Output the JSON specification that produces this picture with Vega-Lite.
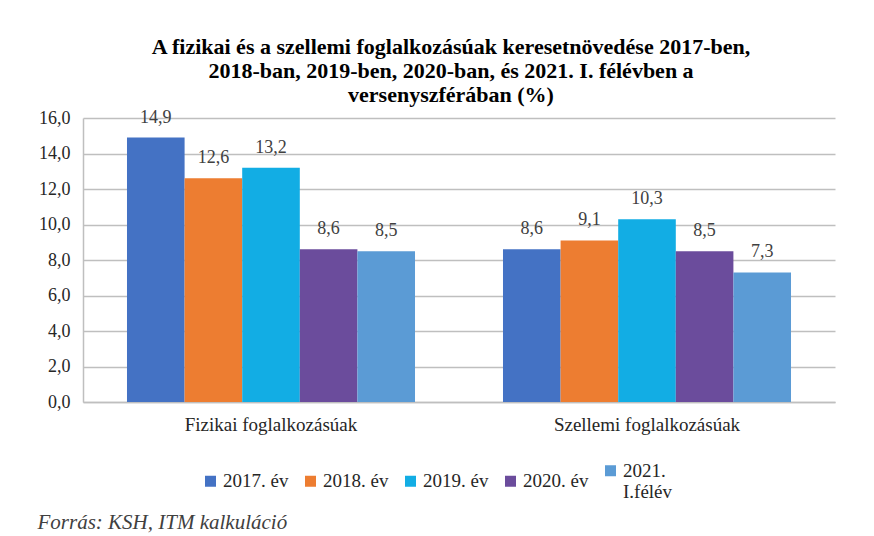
{
  "$schema": "https://vega.github.io/schema/vega-lite/v6.json",
  "autosize": {"type": "none"},
  "width": 752,
  "height": 284,
  "padding": {"left": 83, "top": 118, "right": 39, "bottom": 134},
  "background": "white",
  "title": {
    "text": ["A fizikai és a  szellemi foglalkozásúak keresetnövedése 2017-ben,", "2018-ban, 2019-ben, 2020-ban, és 2021. I. félévben a", "versenyszférában (%)"],
    "font": "Liberation Serif",
    "fontSize": 22,
    "fontWeight": "bold",
    "color": "#000000",
    "lineHeight": 24,
    "anchor": "middle",
    "dx": -8,
    "offset": 2
  },
  "data": {
    "values": [
      {"kategoria": "Fizikai foglalkozásúak", "ev": "2017. év", "ertek": 14.9},
      {"kategoria": "Fizikai foglalkozásúak", "ev": "2018. év", "ertek": 12.6},
      {"kategoria": "Fizikai foglalkozásúak", "ev": "2019. év", "ertek": 13.2},
      {"kategoria": "Fizikai foglalkozásúak", "ev": "2020. év", "ertek": 8.6},
      {"kategoria": "Fizikai foglalkozásúak", "ev": "2021. I.félév", "ertek": 8.5},
      {"kategoria": "Szellemi foglalkozásúak", "ev": "2017. év", "ertek": 8.6},
      {"kategoria": "Szellemi foglalkozásúak", "ev": "2018. év", "ertek": 9.1},
      {"kategoria": "Szellemi foglalkozásúak", "ev": "2019. év", "ertek": 10.3},
      {"kategoria": "Szellemi foglalkozásúak", "ev": "2020. év", "ertek": 8.5},
      {"kategoria": "Szellemi foglalkozásúak", "ev": "2021. I.félév", "ertek": 7.3}
    ]
  },
  "encoding": {
    "x": {
      "field": "kategoria",
      "type": "nominal",
      "sort": null,
      "scale": {"paddingInner": 0.234, "paddingOuter": 0.117},
      "axis": {
        "title": "Forrás: KSH, ITM kalkuláció",
        "titleFont": "Liberation Serif",
        "titleFontSize": 21,
        "titleFontStyle": "italic",
        "titleFontWeight": "normal",
        "titleColor": "#404040",
        "titleAnchor": "start",
        "titleAlign": "left",
        "titleBaseline": "middle",
        "titleX": -46,
        "titleY": 120,
        "labelAngle": 0,
        "labelFont": "Liberation Serif",
        "labelFontSize": 19,
        "labelColor": "#262626",
        "labelPadding": 13,
        "labelLimit": 400,
        "ticks": false,
        "domainColor": "#bfbfbf",
        "domainWidth": 1.5
      }
    },
    "xOffset": {"field": "ev", "type": "nominal", "sort": null},
    "y": {
      "field": "ertek",
      "type": "quantitative",
      "scale": {"domain": [0, 16], "nice": false},
      "axis": {
        "title": null,
        "values": [0, 2, 4, 6, 8, 10, 12, 14, 16],
        "format": ".1f",
        "labelFont": "Liberation Serif",
        "labelFontSize": 18,
        "labelColor": "#262626",
        "labelPadding": 13,
        "ticks": false,
        "domain": true,
        "domainColor": "#bfbfbf",
        "domainWidth": 1.5,
        "gridColor": "#bfbfbf",
        "gridWidth": 1.5
      }
    }
  },
  "layer": [
    {
      "mark": {"type": "bar"},
      "encoding": {
        "color": {
          "field": "ev",
          "type": "nominal",
          "sort": null,
          "scale": {
            "domain": ["2017. év", "2018. év", "2019. év", "2020. év", "2021. I.félév"],
            "range": ["#4472c4", "#ed7d31", "#12ade4", "#6b4c9c", "#5b9bd5"]
          },
          "legend": {
            "title": null,
            "orient": "none",
            "legendX": 118,
            "legendY": 343,
            "direction": "horizontal",
            "symbolType": "square",
            "symbolSize": 121,
            "symbolStrokeWidth": 0,
            "labelFont": "Liberation Serif",
            "labelFontSize": 19,
            "labelColor": "#262626",
            "labelOffset": 3,
            "labelBaseline": "middle",
            "labelLimit": 200,
            "columnPadding": 12,
            "labelExpr": "datum.label == '2021. I.félév' ? ['2021.', 'I.félév'] : datum.label"
          }
        }
      }
    },
    {
      "mark": {"type": "text", "font": "Liberation Serif", "fontSize": 18, "color": "#404040", "baseline": "middle", "dy": -20},
      "encoding": {
        "text": {"field": "ertek", "type": "quantitative", "format": ".1f"}
      }
    }
  ],
  "config": {
    "locale": {"number": {"decimal": ",", "thousands": " ", "grouping": [3], "currency": ["", " Ft"]}},
    "view": {"stroke": null}
  }
}
